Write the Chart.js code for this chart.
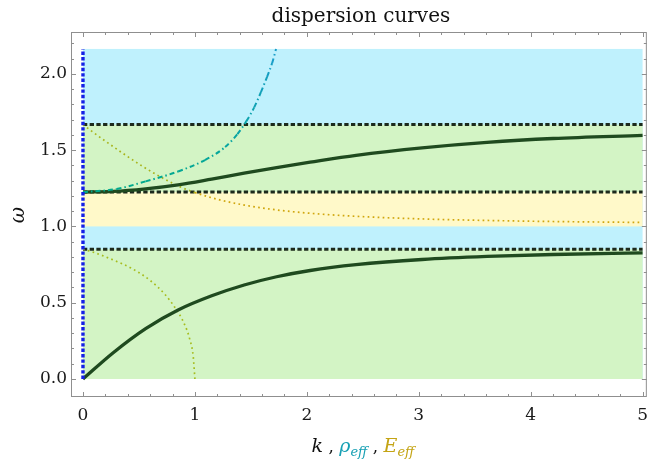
<!DOCTYPE html>
<html>
<head>
<meta charset="utf-8">
<script src="https://cdn.jsdelivr.net/npm/chart.js@4.4.0/dist/chart.umd.min.js"></script>
<style>
  html, body { margin: 0; padding: 0; background: #fff; }
  #wrap { width: 656px; height: 464px; }
</style>
</head>
<body>
<div id="wrap"><canvas id="grafico" width="656" height="464"></canvas></div>
<script>
// --- DATOS ---

// rama acústica (curva sólida inferior)
const kRamaInf = [0, 0.27, 0.56, 0.85, 1.15, 1.44, 1.73, 2.03, 2.44, 3.03, 3.61, 4.2, 5];
const wRamaInf = [0, 0.172, 0.33, 0.452, 0.545, 0.616, 0.67, 0.711, 0.749, 0.783, 0.803, 0.816, 0.826];

// rama óptica (curva sólida superior)
const kRamaSup = [0, 0.27, 0.56, 0.85, 1.15, 1.44, 1.73, 2.03, 2.44, 3.03, 3.61, 4.2, 5];
const wRamaSup = [1.225, 1.229, 1.246, 1.272, 1.31, 1.349, 1.386, 1.421, 1.466, 1.515, 1.551, 1.576, 1.596];

// rho_eff (raya-punto)
const rhoEff = [0, 0.3, 0.56, 0.85, 1.09, 1.27, 1.38, 1.46, 1.53, 1.59, 1.645, 1.69, 1.725];
const wRho   = [1.225, 1.245, 1.295, 1.36, 1.435, 1.52, 1.605, 1.69, 1.78, 1.88, 1.98, 2.07, 2.163];

// E_eff (punteadas)
const eEffAlta = [0, 0.1, 0.2, 0.35, 0.53, 0.68, 0.85, 1.0, 1.2, 1.44, 1.73, 2.03, 2.44, 3.03, 3.61, 4.2, 5];
const wEAlta   = [1.667, 1.612, 1.559, 1.482, 1.395, 1.33, 1.265, 1.222, 1.178, 1.14, 1.108, 1.086, 1.066, 1.049, 1.039, 1.032, 1.026];
const eEffBaja = [0, 0.1, 0.28, 0.43, 0.6, 0.735, 0.82, 0.9, 0.955, 0.985, 1.0];
const wEBaja   = [0.85, 0.829, 0.777, 0.727, 0.646, 0.552, 0.47, 0.37, 0.258, 0.148, 0];

// líneas de corte horizontales y bandas
const wCortes = [0.85, 1.225, 1.667];
const bandaInf = [0, 0, 1.225, 1.0];
const bandaSup = [2.163, 0.85, 1.667, 1.225];
const bandaColor = ['#bff1fd', '#d3f4c5', '#d3f4c5', '#fff9c9'];
const kMax = 5;

// marcas de los ejes
const ticksX = [0, 1, 2, 3, 4, 5];
const ticksY = [0, 0.5, 1.0, 1.5, 2.0];

// --- FUNCIONES AUXILIARES ---
const aPuntos = (xs, ys) => xs.map((v, i) => ({ x: v, y: ys[i] }));

function mezcla(c1, c2, t) {
    const a = c1.match(/\w\w/g).map(h => parseInt(h, 16));
    const b = c2.match(/\w\w/g).map(h => parseInt(h, 16));
    const r = a.map((v, i) => Math.round(v + (b[i] - v) * t));
    return `rgb(${r[0]},${r[1]},${r[2]})`;
}

const TEAL = '#17a0b4';
const ORO = '#c4a414';
const FUENTE = '"DejaVu Serif"';

// --- PLUGINS ---
const pluginBandas = {
    id: 'bandas',
    beforeDatasetsDraw(chart) {
        const { ctx, scales: { x, y } } = chart;
        ctx.save();
        bandaInf.forEach((lo, i) => {
            const x0 = x.getPixelForValue(0), x1 = x.getPixelForValue(kMax);
            const y0 = y.getPixelForValue(bandaSup[i]), y1 = y.getPixelForValue(lo);
            ctx.fillStyle = bandaColor[i];
            ctx.fillRect(x0, y0, x1 - x0, y1 - y0);
        });
        ctx.restore();
    }
};

const pluginMarco = {
    id: 'marco',
    afterDraw(chart) {
        const { ctx, chartArea: a, scales: { x, y } } = chart;
        ctx.save();
        ctx.strokeStyle = '#8f8f8f';
        ctx.lineWidth = 1;
        ctx.strokeRect(a.left + 0.5, a.top + 0.5, a.right - a.left - 1, a.bottom - a.top - 1);
        ctx.beginPath();
        // x: mayores cada 1, menores cada 0.2
        for (let i = 0; i <= 25; i++) {
            const px = Math.round(x.getPixelForValue(i * 0.2)) + 0.5;
            const len = (i % 5 === 0) ? 5 : 3;
            ctx.moveTo(px, a.bottom); ctx.lineTo(px, a.bottom - len);
            ctx.moveTo(px, a.top); ctx.lineTo(px, a.top + len);
        }
        // y: mayores cada 0.5, menores cada 0.1
        for (let i = 0; i <= 22; i++) {
            const py = Math.round(y.getPixelForValue(i * 0.1)) + 0.5;
            const len = (i % 5 === 0) ? 5 : 3;
            ctx.moveTo(a.left, py); ctx.lineTo(a.left + len, py);
            ctx.moveTo(a.right, py); ctx.lineTo(a.right - len, py);
        }
        ctx.stroke();
        ctx.restore();
    }
};

const pluginTextos = {
    id: 'textos',
    afterDraw(chart) {
        const { ctx, chartArea: a } = chart;
        const cx = (a.left + a.right) / 2;
        ctx.save();
        // titulo
        ctx.fillStyle = '#111';
        ctx.font = `20px ${FUENTE}`;
        ctx.textAlign = 'center';
        ctx.textBaseline = 'alphabetic';
        ctx.fillText('dispersion curves', cx + 2, 22);

        // etiqueta eje y
        ctx.save();
        ctx.translate(24, 215);
        ctx.rotate(-Math.PI / 2);
        ctx.font = `italic 20px ${FUENTE}`;
        ctx.textAlign = 'center';
        ctx.fillText('ω', 0, 0);
        ctx.restore();

        // etiqueta eje x con colores
        const trozos = [
            { t: 'k', c: '#111', f: `italic 19px ${FUENTE}`, sub: false },
            { t: ' , ', c: '#111', f: `17px ${FUENTE}`, sub: false },
            { t: 'ρ', c: TEAL, f: `italic 19px ${FUENTE}`, sub: false },
            { t: 'eff', c: TEAL, f: `italic 13px ${FUENTE}`, sub: true },
            { t: ' , ', c: '#111', f: `17px ${FUENTE}`, sub: false },
            { t: 'E', c: ORO, f: `italic 19px ${FUENTE}`, sub: false },
            { t: 'eff', c: ORO, f: `italic 13px ${FUENTE}`, sub: true }
        ];
        ctx.textAlign = 'left';
        let total = 0;
        trozos.forEach(p => { ctx.font = p.f; p.w = ctx.measureText(p.t).width; total += p.w; });
        let xx = cx + 4 - total / 2;
        trozos.forEach(p => {
            ctx.font = p.f;
            ctx.fillStyle = p.c;
            ctx.fillText(p.t, xx, p.sub ? 456 : 452);
            xx += p.w;
        });
        ctx.restore();
    }
};

// --- DATASETS ---
function serie(datos, estilo) {
    return Object.assign({
        data: datos,
        showLine: true,
        pointRadius: 0,
        fill: false,
        cubicInterpolationMode: 'monotone'
    }, estilo);
}

const datasets = [];

// cortes horizontales discontinuos
wCortes.forEach(w => {
    datasets.push(serie(aPuntos([0, kMax], [w, w]), {
        borderColor: '#1c2a1c', borderWidth: 3, borderDash: [4.3, 2.4], order: 6
    }));
});

// E_eff punteadas
const colorE = ctx => {
    const yv = (ctx.p0.parsed.y + ctx.p1.parsed.y) / 2;
    if (yv > 1.235) return '#a8b41c';
    if (yv > 1.0) return '#d0a60e';
    return '#a6bc1e';
};
datasets.push(serie(aPuntos(eEffAlta, wEAlta), {
    borderColor: ORO, borderWidth: 1.7, borderDash: [1.7, 3.3], order: 5,
    segment: { borderColor: colorE }
}));
datasets.push(serie(aPuntos(eEffBaja, wEBaja), {
    borderColor: ORO, borderWidth: 1.7, borderDash: [1.7, 3.3], order: 5,
    segment: { borderColor: colorE }
}));

// ramas de dispersión
datasets.push(serie(aPuntos(kRamaInf, wRamaInf), {
    borderColor: '#1f4a1f', borderWidth: 3.3, order: 4
}));
datasets.push(serie(aPuntos(kRamaSup, wRamaSup), {
    borderColor: '#1f4a1f', borderWidth: 3.3, order: 4
}));

// rho_eff raya-punto, color degradado con omega
datasets.push(serie(aPuntos(rhoEff, wRho), {
    borderColor: TEAL, borderWidth: 2, borderDash: [5, 3, 1.5, 3], order: 3,
    segment: {
        borderColor: ctx => {
            const t = Math.min(1, Math.max(0, (ctx.p0.parsed.y - 1.225) / (2.163 - 1.225)));
            return mezcla('00a98c', '1c9cd0', t);
        }
    }
}));

// línea vertical azul en k = 0
datasets.push(serie(aPuntos([0, 0], [0, 2.163]), {
    borderColor: '#1420e6', borderWidth: 3.4, borderDash: [3.4, 2], order: 1,
    cubicInterpolationMode: 'default', tension: 0
}));

// --- GRÁFICO ---
new Chart(document.getElementById('grafico'), {
    type: 'scatter',
    data: { datasets },
    options: {
        responsive: false,
        animation: false,
        devicePixelRatio: 1,
        layout: { padding: { top: 32, right: 1, left: 0, bottom: 0 } },
        plugins: { legend: { display: false }, tooltip: { enabled: false } },
        scales: {
            x: {
                type: 'linear',
                min: -0.107,
                max: 5.038,
                grid: { display: false, drawTicks: false },
                border: { display: false },
                afterBuildTicks: s => { s.ticks = ticksX.map(v => ({ value: v })); },
                afterFit: s => { s.height = 67; },
                ticks: {
                    padding: 8,
                    color: '#1a1a1a',
                    font: { family: 'DejaVu Serif', size: 17 },
                    maxRotation: 0,
                    callback: v => String(v)
                }
            },
            y: {
                type: 'linear',
                min: -0.118,
                max: 2.274,
                grid: { display: false, drawTicks: false },
                border: { display: false },
                afterBuildTicks: s => { s.ticks = ticksY.map(v => ({ value: v })); },
                afterFit: s => { s.width = 71; },
                ticks: {
                    padding: 4,
                    color: '#1a1a1a',
                    font: { family: 'DejaVu Serif', size: 17 },
                    callback: v => v.toFixed(1)
                }
            }
        }
    },
    plugins: [pluginBandas, pluginMarco, pluginTextos]
});
</script>
</body>
</html>
